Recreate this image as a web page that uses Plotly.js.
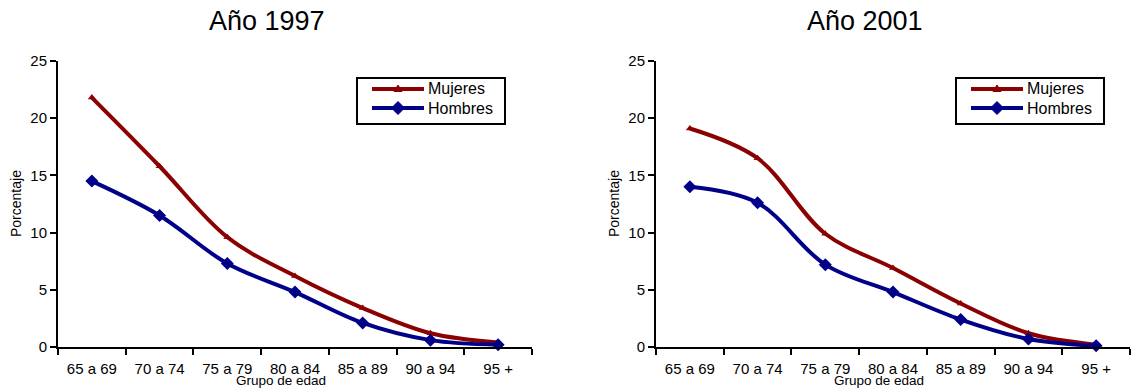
<!DOCTYPE html>
<html>
<head>
<meta charset="utf-8">
<script src="https://cdn.plot.ly/plotly-3.0.1.min.js"></script>
<style>
  html, body { margin: 0; padding: 0; background: #ffffff; }
  #chart { width: 1132px; height: 388px; }
</style>
</head>
<body>
<div id="chart"></div>
<script>
// Porcentaje de población por grupo de edad, mujeres y hombres
const ageGroups = ['65 a 69', '70 a 74', '75 a 79', '80 a 84', '85 a 89', '90 a 94', '95 +'];
const mujeres1997 = [21.8, 15.8, 9.6, 6.2, 3.4, 1.2, 0.4];
const hombres1997 = [14.5, 11.5, 7.3, 4.8, 2.1, 0.6, 0.2];
const mujeres2001 = [19.1, 16.5, 9.9, 6.9, 3.8, 1.2, 0.2];
const hombres2001 = [14.0, 12.6, 7.2, 4.8, 2.4, 0.7, 0.1];
const seriesNames = ['Mujeres', 'Hombres'];
const panelTitles = ['Año 1997', 'Año 2001'];
const xTitle = 'Grupo de edad';
const yTitle = 'Porcentaje';

const W = 1132, H = 388;
const FONT = 'Liberation Sans, Arial, sans-serif';
const RED = '#8b0000';
const BLUE = '#000088';
const px = x => x / W;
const py = y => 1 - y / H;

// panel geometry in pixels
const panels = [
  { x0: 58, x1: 532, xa: 'x', ya: 'y', legendX: 357 },
  { x0: 656, x1: 1130, xa: 'x2', ya: 'y2', legendX: 956 }
];
const plotTop = 61, plotBottom = 347;

const seriesData = [[mujeres1997, hombres1997], [mujeres2001, hombres2001]];
const seriesStyle = [
  { color: RED, symbol: 'triangle-up', size: 7 },
  { color: BLUE, symbol: 'diamond', size: 10 }
];

const traces = [];
panels.forEach((p, i) => {
  seriesData[i].forEach((vals, s) => {
    traces.push({
      type: 'scatter',
      mode: 'lines+markers',
      x: ageGroups,
      y: vals,
      name: seriesNames[s],
      xaxis: p.xa,
      yaxis: p.ya,
      showlegend: false,
      cliponaxis: false,
      line: { color: seriesStyle[s].color, width: 4, shape: 'spline', smoothing: 1 },
      marker: { color: seriesStyle[s].color, symbol: seriesStyle[s].symbol, size: seriesStyle[s].size }
    });
  });
});

const axisCommon = {
  showline: true, linecolor: '#000', linewidth: 2,
  ticks: 'outside', ticklen: 6, tickwidth: 2, tickcolor: '#000',
  showgrid: false, zeroline: false, fixedrange: true,
  tickfont: { family: FONT, size: 15, color: '#000' }
};

const layout = {
  width: W, height: H,
  margin: { l: 0, r: 0, t: 0, b: 0 },
  paper_bgcolor: '#fff', plot_bgcolor: '#fff',
  font: { family: FONT, color: '#000' },
  showlegend: false,
  shapes: [],
  annotations: []
};

panels.forEach((p, i) => {
  const suf = i === 0 ? '' : '2';
  layout['xaxis' + suf] = Object.assign({}, axisCommon, {
    domain: [px(p.x0), px(p.x1)],
    anchor: p.ya,
    type: 'category',
    categoryarray: ageGroups,
    range: [-0.5, ageGroups.length - 0.5],
    tickson: 'boundaries',
    ticklabelstandoff: 7
  });
  layout['yaxis' + suf] = Object.assign({}, axisCommon, {
    domain: [py(plotBottom), py(plotTop)],
    anchor: p.xa,
    range: [0, 25],
    tick0: 0, dtick: 5
  });

  // panel title
  layout.annotations.push({
    xref: 'paper', yref: 'paper', x: px(i === 0 ? 267 : 865), y: py(21),
    xanchor: 'center', yanchor: 'middle', showarrow: false,
    text: panelTitles[i], font: { family: FONT, size: 27, color: '#000' }
  });
  // axis titles
  layout.annotations.push({
    xref: 'paper', yref: 'paper', x: px(p.x0 - 42), y: py(204),
    xanchor: 'center', yanchor: 'middle', showarrow: false, textangle: -90,
    text: yTitle, font: { family: FONT, size: 14, color: '#000' }
  });
  layout.annotations.push({
    xref: 'paper', yref: 'paper', x: px(p.x0 + 223), y: py(380),
    xanchor: 'center', yanchor: 'middle', showarrow: false,
    text: xTitle, font: { family: FONT, size: 13.5, color: '#000' }
  });

  // legend box
  const lx = p.legendX;
  layout.shapes.push({
    type: 'rect', xref: 'paper', yref: 'paper',
    x0: px(lx), x1: px(lx + 148), y0: py(124), y1: py(78),
    line: { color: '#000', width: 2 }, fillcolor: '#fff', layer: 'above'
  });
  const rows = [89, 108];
  rows.forEach((ry, s) => {
    const st = seriesStyle[s];
    layout.shapes.push({
      type: 'line', xref: 'paper', yref: 'paper',
      x0: px(lx + 15), x1: px(lx + 67), y0: py(ry), y1: py(ry),
      line: { color: st.color, width: 4 }, layer: 'above'
    });
    const cx = lx + 41;
    let path;
    if (st.symbol === 'diamond') {
      const r = 6.5;
      path = `M${px(cx - r)},${py(ry)} L${px(cx)},${py(ry - r)} L${px(cx + r)},${py(ry)} L${px(cx)},${py(ry + r)} Z`;
    } else {
      const r = 4;
      path = `M${px(cx - r)},${py(ry + 2.5)} L${px(cx)},${py(ry - 4)} L${px(cx + r)},${py(ry + 2.5)} Z`;
    }
    layout.shapes.push({
      type: 'path', xref: 'paper', yref: 'paper', path: path,
      fillcolor: st.color, line: { color: st.color, width: 1 }, layer: 'above'
    });
    layout.annotations.push({
      xref: 'paper', yref: 'paper', x: px(lx + 69), y: py(ry),
      xanchor: 'left', yanchor: 'middle', showarrow: false,
      text: seriesNames[s], font: { family: FONT, size: 16, color: '#000' }
    });
  });
});

Plotly.newPlot('chart', traces, layout, { displayModeBar: false, staticPlot: true });
</script>
</body>
</html>
